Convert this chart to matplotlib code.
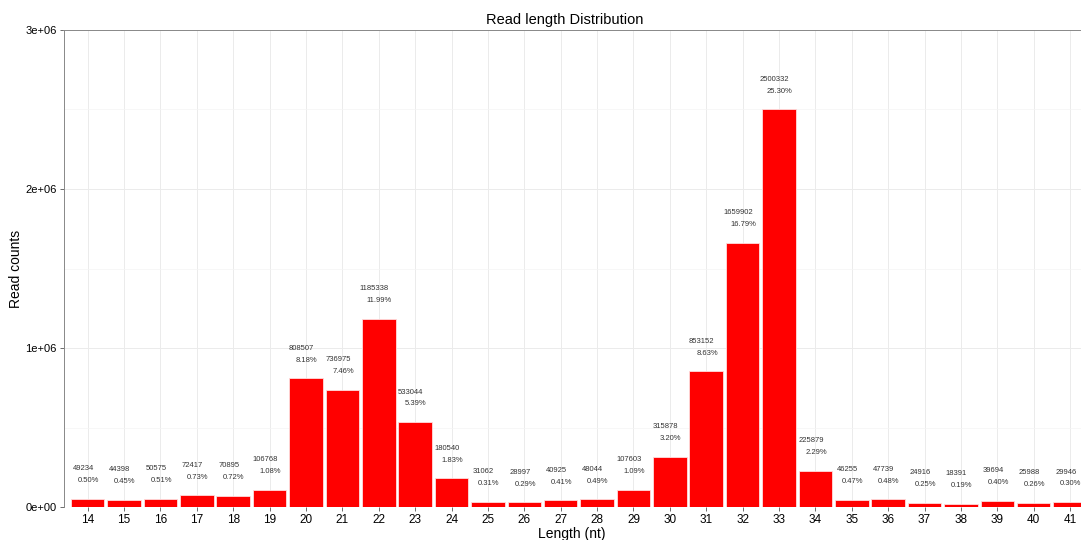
import matplotlib
matplotlib.use("Agg")
import matplotlib.pyplot as plt
from matplotlib.ticker import MultipleLocator

plt.rcParams['font.family'] = ['Liberation Sans', 'DejaVu Sans']

lengths = list(range(14, 42))
counts = [49234, 44398, 50575, 72417, 70895, 106768, 808507, 736975, 1185338, 533044,
          180540, 31062, 28997, 40925, 48044, 107603, 315878, 853152, 1659902, 2500332,
          225879, 46255, 47739, 24916, 18391, 39694, 25988, 29946]
percents = ["0.50%", "0.45%", "0.51%", "0.73%", "0.72%", "1.08%", "8.18%", "7.46%", "11.99%", "5.39%",
            "1.83%", "0.31%", "0.29%", "0.41%", "0.49%", "1.09%", "3.20%", "8.63%", "16.79%", "25.30%",
            "2.29%", "0.47%", "0.48%", "0.25%", "0.19%", "0.40%", "0.26%", "0.30%"]
yticks = [0, 1e6, 2e6, 3e6]
ytick_labels = ["0e+00", "1e+06", "2e+06", "3e+06"]

fig = plt.figure(figsize=(10.81, 5.40), dpi=100)
ax = fig.add_axes([63.5/1081, 1-507/540, 1-63.5/1081, (507-30)/540])

ax.bar(lengths, counts, width=0.92, color='#ff0000', edgecolor='#ffdddd', linewidth=0.6, zorder=3)

for x, c, p in zip(lengths, counts, percents):
    ax.text(x - 0.12, c + 0.19e6, str(c), ha='center', va='center', fontsize=5.5, color='#333333', zorder=4)
    ax.text(x + 0.02, c + 0.115e6, p, ha='center', va='center', fontsize=5.5, color='#333333', zorder=4)

ax.set_xlim(13.335, 41.3)
ax.set_ylim(0, 3e6)
ax.set_xticks(lengths)
ax.set_xticklabels([str(l) for l in lengths], fontsize=8.5)
ax.set_yticks(yticks)
ax.set_yticklabels(ytick_labels, fontsize=8)
ax.yaxis.set_minor_locator(MultipleLocator(0.5e6))
ax.grid(True, which='major', color='#ebebeb', linewidth=0.7, zorder=0)
ax.grid(True, which='minor', axis='y', color='#f4f4f4', linewidth=0.5, zorder=0)
ax.tick_params(axis='both', which='major', length=3, color='#555555', width=0.6, pad=2)
ax.tick_params(axis='y', which='minor', length=0)

for s in ['left', 'top']:
    ax.spines[s].set_color('#888888')
    ax.spines[s].set_linewidth(0.7)
ax.spines['right'].set_visible(False)
ax.spines['bottom'].set_visible(False)

fig.text(565/1081, 1-20/540, "Read length Distribution", fontsize=10.5, ha='center', va='center')
ax.set_xlabel("Length (nt)", fontsize=10, labelpad=1)
ax.set_ylabel("Read counts", fontsize=10)
ax.yaxis.set_label_coords(-0.0398, 0.5)

fig.savefig("out.png", dpi=100)
